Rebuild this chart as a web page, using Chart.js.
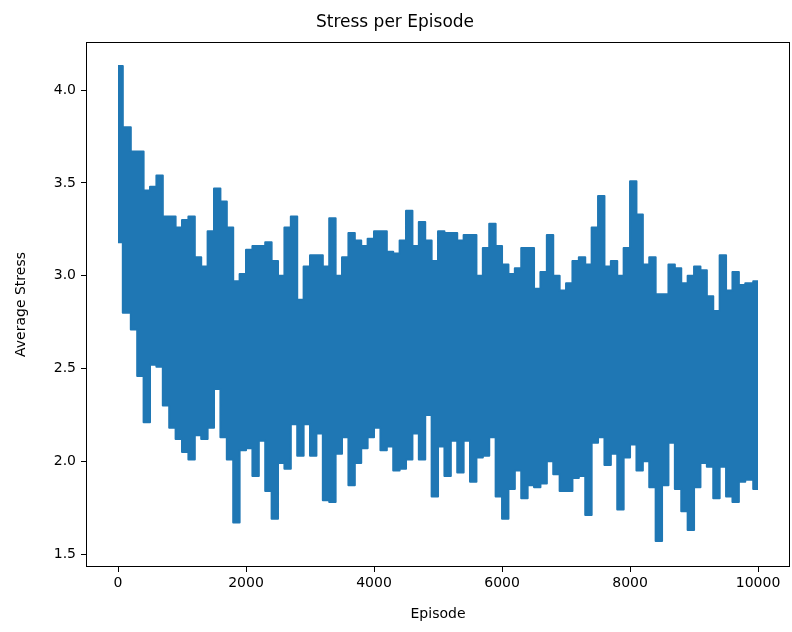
<!DOCTYPE html>
<html>
<head>
<meta charset="utf-8">
<title>Stress per Episode</title>
<script src="https://cdn.jsdelivr.net/npm/chart.js@4/dist/chart.umd.min.js"></script>
<style>
  body { margin: 0; background: #fff; }
  #wrap { width: 792px; height: 632px; }
</style>
</head>
<body>
<div id="wrap"><canvas id="stressChart" width="792" height="632"></canvas></div>
<script>
/* ============================================================
   DATA (one bin per 100 episodes)
   ============================================================ */

// episode at the centre of each bin (first / last pinned to the run ends)
const episodes = [
  0, 150, 250, 350, 450, 550, 650, 750, 850, 950,
  1050, 1150, 1250, 1350, 1450, 1550, 1650, 1750, 1850, 1950,
  2050, 2150, 2250, 2350, 2450, 2550, 2650, 2750, 2850, 2950,
  3050, 3150, 3250, 3350, 3450, 3550, 3650, 3750, 3850, 3950,
  4050, 4150, 4250, 4350, 4450, 4550, 4650, 4750, 4850, 4950,
  5050, 5150, 5250, 5350, 5450, 5550, 5650, 5750, 5850, 5950,
  6050, 6150, 6250, 6350, 6450, 6550, 6650, 6750, 6850, 6950,
  7050, 7150, 7250, 7350, 7450, 7550, 7650, 7750, 7850, 7950,
  8050, 8150, 8250, 8350, 8450, 8550, 8650, 8750, 8850, 8950,
  9050, 9150, 9250, 9350, 9450, 9550, 9650, 9750, 9850, 9999
];

// highest average stress seen in each bin
const stressHigh = [
  4.13, 3.80, 3.67, 3.67, 3.46, 3.48, 3.54, 3.32, 3.32, 3.26,
  3.30, 3.32, 3.10, 3.05, 3.24, 3.47, 3.40, 3.26, 2.97, 3.01,
  3.14, 3.16, 3.16, 3.18, 3.08, 3.00, 3.26, 3.32, 2.87, 3.05,
  3.11, 3.11, 3.05, 3.31, 3.00, 3.10, 3.23, 3.19, 3.16, 3.20,
  3.24, 3.24, 3.13, 3.12, 3.19, 3.35, 3.16, 3.29, 3.19, 3.08,
  3.24, 3.23, 3.23, 3.19, 3.22, 3.22, 3.00, 3.15, 3.28, 3.16,
  3.06, 3.01, 3.04, 3.15, 3.15, 2.93, 3.02, 3.22, 3.00, 2.92,
  2.96, 3.08, 3.10, 3.06, 3.26, 3.43, 3.05, 3.08, 3.00, 3.15,
  3.51, 3.33, 3.06, 3.10, 2.90, 2.90, 3.06, 3.04, 2.96, 3.00,
  3.05, 3.03, 2.89, 2.81, 3.11, 2.92, 3.02, 2.95, 2.96, 2.97
];

// lowest average stress seen in each bin
const stressLow = [
  3.18, 2.80, 2.71, 2.46, 2.21, 2.52, 2.51, 2.30, 2.18, 2.12,
  2.05, 2.01, 2.14, 2.12, 2.18, 2.39, 2.13, 2.01, 1.67, 2.06,
  2.07, 1.92, 2.11, 1.84, 1.69, 1.99, 1.96, 2.20, 2.03, 2.20,
  2.03, 2.15, 1.79, 1.78, 2.04, 2.13, 1.87, 1.99, 2.07, 2.13,
  2.18, 2.06, 2.08, 1.95, 1.96, 2.01, 2.15, 2.01, 2.25, 1.81,
  2.08, 1.92, 2.11, 1.94, 2.11, 1.89, 2.02, 2.03, 2.13, 1.81,
  1.69, 1.85, 1.95, 1.80, 1.87, 1.86, 1.88, 2.00, 1.93, 1.84,
  1.84, 1.91, 1.92, 1.71, 2.10, 2.13, 1.98, 2.04, 1.74, 2.02,
  2.09, 1.95, 2.00, 1.86, 1.57, 1.87, 2.10, 1.85, 1.73, 1.63,
  1.86, 1.99, 1.97, 1.80, 1.97, 1.81, 1.78, 1.89, 1.90, 1.85
];

const xTicks = [0, 2000, 4000, 6000, 8000, 10000];
const yTicks = [1.5, 2.0, 2.5, 3.0, 3.5, 4.0];

/* ============================================================
   CHART
   ============================================================ */

const BLUE = '#1f77b4';
const FONT = 'DejaVu Sans';

// full box around the plot, like matplotlib spines
const frameBox = {
  id: 'frameBox',
  afterDraw(chart) {
    const { ctx, chartArea: a } = chart;
    ctx.save();
    ctx.strokeStyle = '#000';
    ctx.lineWidth = 1;
    ctx.strokeRect(a.left + 0.5, a.top + 0.5, a.right - a.left - 1, a.bottom - a.top - 1);
    ctx.restore();
  }
};

const axisCommon = {
  border: { display: false },
  grid: { drawOnChartArea: false, drawTicks: true, tickLength: 5, color: '#000', lineWidth: 1 },
};

// shared look of the two envelope lines (stepped, so each bin reads as a spike)
const envelope = {
  borderColor: BLUE,
  borderWidth: 2,
  borderJoinStyle: 'round',
  pointRadius: 0,
  stepped: 'middle'
};

new Chart(document.getElementById('stressChart').getContext('2d'), {
  type: 'line',
  data: {
    datasets: [
      {
        ...envelope,
        data: episodes.map((e, i) => ({ x: e, y: stressHigh[i] })),
        fill: false
      },
      {
        ...envelope,
        data: episodes.map((e, i) => ({ x: e, y: stressLow[i] })),
        backgroundColor: BLUE,
        fill: '-1'
      }
    ]
  },
  options: {
    responsive: false,
    animation: false,
    layout: { padding: { left: 0, right: 2, top: 0, bottom: 0 } },
    plugins: {
      legend: { display: false },
      tooltip: { enabled: false },
      title: {
        display: true,
        text: 'Stress per Episode',
        color: '#000',
        font: { family: FONT, size: 17, weight: 'normal' },
        padding: { top: 12, bottom: 9.6 }
      }
    },
    scales: {
      x: {
        ...axisCommon,
        type: 'linear',
        min: -500,
        max: 10499,
        afterBuildTicks: s => { s.ticks = xTicks.map(v => ({ value: v })); },
        afterFit: s => { s.height = 65; },
        ticks: {
          color: '#000', padding: 3, autoSkip: false, maxRotation: 0,
          font: { family: FONT, size: 14 },
          callback: v => String(v)
        },
        title: {
          display: true, text: 'Episode', color: '#000',
          font: { family: FONT, size: 14 },
          padding: { top: 0, bottom: 9 }
        }
      },
      y: {
        ...axisCommon,
        type: 'linear',
        min: 1.43,
        max: 4.26,
        afterBuildTicks: s => { s.ticks = yTicks.map(v => ({ value: v })); },
        afterFit: s => { s.width = 86; },
        ticks: {
          color: '#000', padding: 5,
          font: { family: FONT, size: 14 },
          callback: v => v.toFixed(1)
        },
        title: {
          display: true, text: 'Average Stress', color: '#000',
          font: { family: FONT, size: 14 },
          padding: { top: 13, bottom: 0 }
        }
      }
    }
  },
  plugins: [frameBox]
});
</script>
</body>
</html>
